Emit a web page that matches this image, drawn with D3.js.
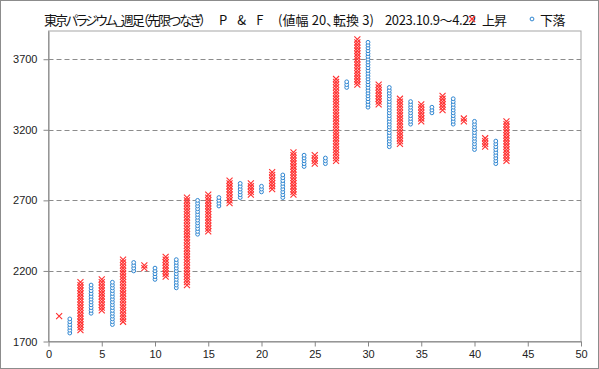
<!DOCTYPE html>
<html lang="ja">
<head>
<meta charset="UTF-8">
<title>東京パラジウム P&F</title>
<script src="https://d3js.org/d3.v7.min.js"></script>
<style>
  html, body { margin: 0; padding: 0; background: #fff; }
  svg { display: block; font-family: "Noto Sans CJK JP", "Noto Sans", sans-serif; }
  .hd { font-feature-settings: "palt"; }
</style>
</head>
<body>
<svg width="599" height="369"></svg>
<script>
// column number, type (X = up, O = down), low and high box values
const colNum  = d3.range(1, 44);
const colType = ["X","O","X","O","X","O","X","O","X","O","X","O","X","O","X","O","X","O","X","O","X","O",
                 "X","O","X","O","X","O","X","O","X","O","X","O","X","O","X","O","X","O","X","O","X"];
const colLow  = [1880,1760,1780,1900,1920,1820,1840,2200,2220,2140,2160,2080,2100,2460,2480,2660,2680,2720,2740,2760,2780,2720,
                 2740,2940,2960,2960,2980,3500,3520,3360,3380,3080,3100,3240,3260,3320,3340,3240,3260,3060,3080,2960,2980];
const colHigh = [1880,1860,2120,2100,2140,2120,2280,2260,2240,2220,2300,2280,2720,2700,2740,2720,2840,2820,2820,2800,2900,2880,
                 3040,3020,3020,3000,3560,3540,3840,3820,3520,3500,3420,3400,3380,3360,3440,3420,3280,3260,3140,3120,3260];
const boxSize = 20;
const yTicks = [1700, 2200, 2700, 3200, 3700];
const xTicks = [0, 5, 10, 15, 20, 25, 30, 35, 40, 45, 50];

const upColor = "#ff3030";
const downColor = "#2f86d1";

const svg = d3.select("svg");

// outer frame
svg.append("rect").attr("x", 0.5).attr("y", 0.5).attr("width", 598).attr("height", 368)
  .attr("fill", "#fff").attr("stroke", "#8c8c8c");

const x = d3.scaleLinear().domain([0, 50]).range([48.5, 581]);
const y = d3.scaleLinear().domain([1700, 3900]).range([341.5, 31]);

// plot area border
svg.append("rect").attr("x", 48.5).attr("y", 31).attr("width", 581 - 48.5).attr("height", 341.5 - 31)
  .attr("fill", "none").attr("stroke", "#a6a6a6");

// gridlines
svg.append("g").selectAll("line")
  .data(yTicks.filter(d => d > 1700))
  .join("line")
  .attr("x1", x(0)).attr("x2", x(50))
  .attr("y1", d => Math.round(y(d)) + 0.5).attr("y2", d => Math.round(y(d)) + 0.5)
  .attr("stroke", "#8c8c8c").attr("stroke-dasharray", "5,3");

// axes
const yAxis = svg.append("g").attr("transform", `translate(${x(0)},0)`)
  .call(d3.axisLeft(y).tickValues(yTicks).tickFormat(d3.format("d"))
    .tickSize(5).tickSizeOuter(0).tickPadding(6));
const xAxis = svg.append("g").attr("transform", `translate(0,${y(1700)})`)
  .call(d3.axisBottom(x).tickValues(xTicks).tickFormat(d3.format("d"))
    .tickSize(5).tickSizeOuter(0).tickPadding(4));
[yAxis, xAxis].forEach(a => {
  a.select(".domain").attr("stroke", "#868686");
  a.selectAll(".tick line").attr("stroke", "#868686");
  a.selectAll("text").attr("font-size", 11).attr("fill", "#222")
    .attr("font-family", "'Liberation Sans', Arial, sans-serif");
});

// boxes
const boxes = [];
colNum.forEach((c, i) => {
  d3.range(colLow[i], colHigh[i] + 1, boxSize).forEach(v => boxes.push({ col: c, type: colType[i], v: v }));
});

const marks = svg.append("g");
marks.selectAll("path.up")
  .data(boxes.filter(d => d.type === "X"))
  .join("path")
  .attr("class", "up")
  .attr("d", "M-3,-3L3,3M3,-3L-3,3")
  .attr("transform", d => `translate(${x(d.col)},${y(d.v)})`)
  .attr("stroke", upColor).attr("stroke-width", 1.1).attr("fill", "none");

marks.selectAll("circle.down")
  .data(boxes.filter(d => d.type === "O"))
  .join("circle")
  .attr("class", "down")
  .attr("cx", d => x(d.col)).attr("cy", d => y(d.v)).attr("r", 1.9)
  .attr("stroke", downColor).attr("stroke-width", 1).attr("fill", "#fff");

// header texts: title pieces and legend labels, spaced to the reference widths
const headParts = [
  { text: "東京パラジウム_週足（先限つなぎ）", x: 44, w: 160 },
  { text: "P & F", x: 219, w: 48 },
  { text: "(値幅 20、転換 3)", x: 278, w: 96 },
  { text: "2023.10.9～4.22", x: 385, w: 91 },
  { text: "上昇", x: 482, w: 24 },
  { text: "下落", x: 540, w: 25 }
];
svg.append("g").selectAll("text")
  .data(headParts)
  .join("text")
  .attr("class", "hd")
  .attr("x", d => d.x).attr("y", 25)
  .attr("font-size", 13).attr("fill", "#111")
  .text(d => d.text)
  .each(function(d) {
    const len = this.getComputedTextLength();
    const n = d.text.length;
    const ls = Math.min(4, (d.w - len) / n);
    d3.select(this).attr("letter-spacing", ls.toFixed(2));
  });

// legend markers
const legend = svg.append("g");
legend.append("path").attr("d", "M-3,-3L3,3M3,-3L-3,3")
  .attr("transform", "translate(472,19)")
  .attr("stroke", upColor).attr("stroke-width", 1.1).attr("fill", "none");
legend.append("circle").attr("cx", 532).attr("cy", 19).attr("r", 1.9)
  .attr("stroke", downColor).attr("stroke-width", 1).attr("fill", "#fff");
</script>
</body>
</html>
